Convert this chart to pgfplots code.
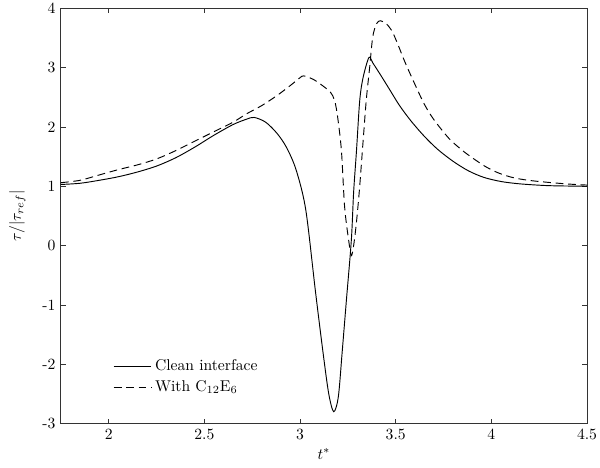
\documentclass[border=0pt]{standalone}
\usepackage{pgfplots}
\pgfplotsset{compat=1.18}
\usetikzlibrary{calc}

\begin{document}
\begin{tikzpicture}
\begin{axis}[
    scale only axis,
    width=337pt, height=266pt,
    xmin=1.75, xmax=4.5,
    ymin=-3, ymax=4,
    xtick={2,2.5,3,3.5,4,4.5},
    ytick={-3,-2,-1,0,1,2,3,4},
    yticklabels={-3,-2,-1,0,1,2,3,4},
    tick align=inside,
    major tick length=3.2pt,
    axis line style={black!80, line width=0.5pt},
    every tick/.style={black!80, line width=0.5pt},
    xlabel={$t^*$},
    ylabel={$\tau/|\tau_{ref}|$},
    xlabel style={yshift=1pt},
    ylabel style={yshift=4pt},
    legend style={at={(0.09,0.113)}, anchor=west, draw=none, fill=none,
        row sep=1pt, font=\normalsize},
    legend cell align=left,
    legend image code/.code={\draw[#1] (0cm,0cm) -- (0.85cm,0cm);},
]
\addplot[black, line width=0.6pt, smooth, tension=0.5] coordinates {
(1.75,1.03) (1.85,1.05) (1.95,1.10) (2.05,1.16) (2.15,1.24) (2.25,1.34)
(2.35,1.48) (2.45,1.66) (2.55,1.86) (2.65,2.04) (2.72,2.13) (2.76,2.16)
(2.82,2.08) (2.88,1.89) (2.93,1.65) (2.98,1.27) (3.03,0.60) (3.08,-0.76)
(3.12,-1.80) (3.15,-2.50) (3.176,-2.80) (3.20,-2.55) (3.22,-1.80)
(3.242,-0.93) (3.268,0.09) (3.28,0.90) (3.295,1.60) (3.312,2.45)
(3.33,2.84) (3.36,3.17) (3.38,3.08) (3.42,2.88) (3.47,2.62) (3.52,2.36)
(3.58,2.10) (3.65,1.84) (3.72,1.62) (3.80,1.42) (3.88,1.26) (3.96,1.15)
(4.05,1.08) (4.15,1.04) (4.30,1.01) (4.50,1.00)
};
\addlegendentry{Clean interface}
\addplot[black, line width=0.6pt, dash pattern=on 5pt off 3pt, smooth, tension=0.5] coordinates {
(1.75,1.06) (1.85,1.10) (1.95,1.19) (2.05,1.28) (2.15,1.36) (2.25,1.46)
(2.35,1.60) (2.45,1.76) (2.55,1.92) (2.65,2.08) (2.72,2.22) (2.80,2.36)
(2.88,2.53) (2.95,2.70) (3.00,2.83) (3.02,2.86) (3.07,2.80) (3.12,2.69)
(3.16,2.58) (3.18,2.45) (3.195,2.20) (3.216,1.61) (3.233,0.65) (3.254,0.09)
(3.268,-0.17) (3.28,0.00) (3.294,0.37) (3.31,0.93) (3.33,1.78)
(3.346,2.45) (3.364,3.01) (3.38,3.52) (3.40,3.74) (3.42,3.79) (3.45,3.74)
(3.48,3.62) (3.51,3.40) (3.55,3.08) (3.60,2.72) (3.65,2.38) (3.70,2.12)
(3.78,1.80) (3.85,1.60) (3.90,1.48) (3.97,1.33) (4.04,1.22) (4.12,1.14)
(4.22,1.09) (4.39,1.04) (4.50,1.02)
};
\addlegendentry{With C$_{12}$E$_6$}
\end{axis}
\pgfresetboundingbox
\path[use as bounding box] ($(current axis.south west)+(-39pt,-28.2pt)$) rectangle ($(current axis.north east)+(8.3pt,5.3pt)$);
\end{tikzpicture}
\end{document}
